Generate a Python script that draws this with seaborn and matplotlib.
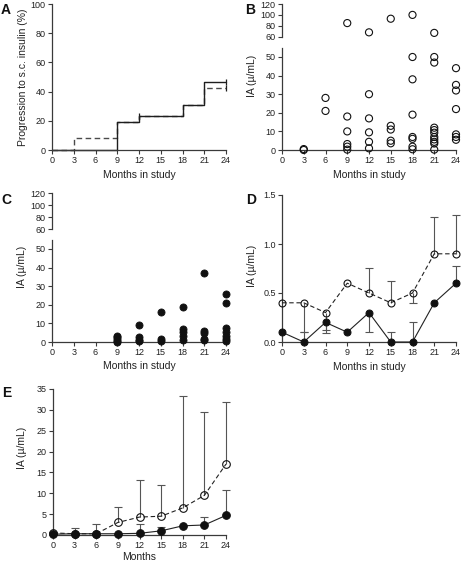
import matplotlib
matplotlib.use("Agg")
import matplotlib.pyplot as plt
import seaborn as sns
import pandas as pd
import numpy as np

# ---------------- data ----------------
months = [0, 3, 6, 9, 12, 15, 18, 21, 24]
xticks = [0, 3, 6, 9, 12, 15, 18, 21, 24]

# Panel A: Kaplan-Meier style progression (%)
a_solid_x = [0, 9, 12, 18, 21, 24]
a_solid_y = [0, 19.5, 23.3, 30.8, 46.4, 46.4]
a_dash_x = [0, 3, 9, 12, 18, 21, 24]
a_dash_y = [0, 8.0, 19.5, 23.3, 30.8, 42.7, 42.7]
a_cens_x = [12, 24, 24]
a_cens_y = [23.3, 46.4, 42.7]

# Panel B: individual IA values (open circles)
b_months = [3, 6, 9, 12, 15, 18, 21, 24]
b_values = [
    [0.0, 0.5],
    [28, 21],
    [85, 18, 10, 3.2, 1.8, 0.2],
    [68, 30, 17, 9.5, 4.4, 0.9],
    [93, 13, 11, 5, 3.6],
    [100, 50, 38, 19, 7, 6, 1.8, 0.4],
    [67, 50, 47, 12, 10.7, 9.3, 7, 5.7, 4.4, 3.5, 0.2],
    [44, 35, 32, 22, 8.4, 7, 5.5],
]

# Panel C: individual IA values (filled circles)
c_months = [9, 12, 15, 18, 21, 24]
c_values = [
    [3.4, 2.5, 1.5, 0.6, 0.0],
    [9.3, 2.5, 1.3, 0.3],
    [16, 1.6, 0.7],
    [19, 7.1, 5.4, 3.2, 1.1],
    [37, 5.8, 5.0, 1.8, 1.0],
    [26, 21, 7.4, 5.6, 3.4, 1.6, 0.4],
]

# Panel D: summary (open = dashed, filled = solid), with bar bounds
d_open = [0.4, 0.4, 0.3, 0.6, 0.5, 0.4, 0.5, 0.9, 0.9]
d_open_lo = [0.4, 0.1, 0.12, 0.6, 0.5, 0.4, 0.4, 0.9, 0.9]
d_open_hi = [0.4, 0.4, 0.3, 0.6, 0.76, 0.62, 0.5, 1.28, 1.3]
d_fill = [0.1, 0.0, 0.2, 0.1, 0.3, 0.0, 0.0, 0.4, 0.6]
d_fill_lo = [0.1, 0.0, 0.09, 0.1, 0.1, 0.0, 0.0, 0.4, 0.6]
d_fill_hi = [0.1, 0.1, 0.2, 0.1, 0.3, 0.1, 0.2, 0.4, 0.78]

# Panel E
e_open = [0.5, 0.3, 0.3, 3.0, 4.3, 4.5, 6.5, 9.5, 17.0]
e_open_hi = [0.8, 1.7, 2.6, 6.8, 13.1, 12.0, 33.3, 29.5, 32.0]
e_fill = [0.2, 0.3, 0.3, 0.3, 0.4, 1.0, 2.2, 2.4, 4.7]
e_fill_hi = [0.2, 0.3, 0.3, 0.3, 2.6, 2.0, 2.2, 4.3, 10.8]

# ---------------- style ----------------
sns.set_theme(style="ticks")
plt.rcParams["font.family"] = ["Liberation Sans", "DejaVu Sans"]
plt.rcParams["axes.linewidth"] = 0.9

W, H = 463, 565
fig = plt.figure(figsize=(W / 100, H / 100), dpi=100)

SPINE = "#3a3a3a"
TICKFS = 6.5
LABFS = 7.5


def add_ax(l, t, r, b):
    return fig.add_axes([l / W, 1 - b / H, (r - l) / W, (b - t) / H])


def style(ax, xaxis=True):
    sns.despine(ax=ax)
    for s in ["left", "bottom"]:
        ax.spines[s].set_color(SPINE)
        ax.spines[s].set_linewidth(0.9)
    ax.tick_params(axis="both", length=3, width=0.8, pad=1.5,
                   labelsize=TICKFS, colors="#222222", color=SPINE)
    if not xaxis:
        ax.spines["bottom"].set_visible(False)
        ax.tick_params(axis="x", bottom=False, labelbottom=False)
    ax.set_facecolor("none")


def xsetup(ax, label="Months in study", pix_below=20):
    ax.set_xlim(0, 24)
    ax.set_xticks(xticks)
    ax.set_xticklabels([str(v) for v in xticks])
    ax.set_xlabel(label, fontsize=LABFS, color="#222222")
    h = ax.get_position().height * H
    ax.xaxis.set_label_coords(0.5, -pix_below / h)


def ylab(ax, text, px_left, yfrac):
    ax.set_ylabel(text, fontsize=LABFS, color="#222222")
    w = ax.get_position().width * W
    ax.yaxis.set_label_coords(-px_left / w, yfrac)


def caps(ax, x, y, color):
    ax.plot(x, y, linestyle="none", marker="_", markersize=6,
            markeredgewidth=0.8, color=color, clip_on=False, zorder=2)


def bars(ax, x, val, lo, hi, color="#555555"):
    x = np.asarray(x, float)
    val = np.asarray(val, float)
    lo = np.asarray(lo, float)
    hi = np.asarray(hi, float)
    m = hi > val
    ax.vlines(x[m], val[m], hi[m], color=color, linewidth=0.8, zorder=2,
              clip_on=False)
    caps(ax, x[m], hi[m], color)
    m = lo < val
    ax.vlines(x[m], lo[m], val[m], color=color, linewidth=0.8, zorder=2,
              clip_on=False)
    caps(ax, x[m], lo[m], color)


# ---------------- Panel A ----------------
axA = add_ax(52, 4, 226, 150)
style(axA)
sns.lineplot(x=a_dash_x, y=a_dash_y, ax=axA, drawstyle="steps-post",
             color="#4a4a4a", linewidth=1.0, linestyle=(0, (4, 2.5)),
             clip_on=False)
sns.lineplot(x=a_solid_x, y=a_solid_y, ax=axA, drawstyle="steps-post",
             color="#1e1e1e", linewidth=1.0, clip_on=False)
axA.plot(a_cens_x, a_cens_y, linestyle="none", marker="|", markersize=5,
         markeredgewidth=0.9, color="#1e1e1e", clip_on=False)
axA.set_ylim(0, 100)
axA.set_yticks([0, 20, 40, 60, 80, 100])
xsetup(axA, pix_below=20)
ylab(axA, "Progression to s.c. insulin (%)", 24, 0.5)

# ---------------- Panel B ----------------
dfB = pd.DataFrame({"month": np.repeat(b_months, [len(v) for v in b_values]),
                    "IA": np.concatenate([np.asarray(v, float) for v in b_values])})
axB = add_ax(282, 47.7, 456, 150)
axBu = add_ax(282, 4, 456, 36.7)
for ax, sub in [(axB, dfB[dfB.IA <= 55]), (axBu, dfB[dfB.IA > 55])]:
    sns.scatterplot(data=sub, x="month", y="IA", ax=ax, marker="o", s=26,
                    facecolors="none", edgecolor="#111111", linewidth=0.8,
                    clip_on=False, zorder=3)
style(axB)
style(axBu, xaxis=False)
axB.set_ylim(0, 55)
axB.set_yticks([0, 10, 20, 30, 40, 50])
axBu.set_ylim(60, 120)
axBu.set_yticks([60, 80, 100, 120])
axBu.set_xlim(0, 24)
axBu.set_xlabel("")
axBu.set_ylabel("")
xsetup(axB, pix_below=20)
ylab(axB, "IA (µ/mL)", 25, 0.72)

# ---------------- Panel C ----------------
dfC = pd.DataFrame({"month": np.repeat(c_months, [len(v) for v in c_values]),
                    "IA": np.concatenate([np.asarray(v, float) for v in c_values])})
axC = add_ax(52, 239.7, 226, 342)
axCu = add_ax(52, 193.3, 226, 229.3)
sns.scatterplot(data=dfC, x="month", y="IA", ax=axC, marker="o", s=26,
                color="#111111", edgecolor="#111111", linewidth=0.6,
                clip_on=False, zorder=3)
style(axC)
style(axCu, xaxis=False)
axC.set_ylim(0, 55)
axC.set_yticks([0, 10, 20, 30, 40, 50])
axCu.set_ylim(60, 120)
axCu.set_yticks([60, 80, 100, 120])
axCu.set_xlim(0, 24)
xsetup(axC, pix_below=19)
ylab(axC, "IA (µ/mL)", 25, 0.73)

# ---------------- Panel D ----------------
axD = add_ax(282, 195, 456, 342)
style(axD)
bars(axD, months, d_open, d_open_lo, d_open_hi)
bars(axD, months, d_fill, d_fill_lo, d_fill_hi)
sns.lineplot(x=months, y=d_open, ax=axD, color="#222222", linewidth=0.8,
             linestyle=(0, (4, 2.5)), marker="o", markersize=5,
             markerfacecolor="none", markeredgecolor="#111111",
             markeredgewidth=0.8, clip_on=False, zorder=3)
sns.lineplot(x=months, y=d_fill, ax=axD, color="#222222", linewidth=0.8,
             marker="o", markersize=5, markerfacecolor="#111111",
             markeredgecolor="#111111", clip_on=False, zorder=4)
axD.set_ylim(0, 1.5)
axD.set_yticks([0, 0.5, 1.0, 1.5])
axD.set_yticklabels(["0.0", "0.5", "1.0", "1.5"])
xsetup(axD, pix_below=20)
ylab(axD, "IA (µ/mL)", 25, 0.52)

# ---------------- Panel E ----------------
axE = add_ax(53, 389, 226, 535)
style(axE)
bars(axE, months, e_open, e_open, e_open_hi)
bars(axE, months, e_fill, e_fill, e_fill_hi)
sns.lineplot(x=months, y=e_open, ax=axE, color="#222222", linewidth=0.8,
             linestyle=(0, (4, 2.5)), marker="o", markersize=5.5,
             markerfacecolor="none", markeredgecolor="#111111",
             markeredgewidth=0.8, clip_on=False, zorder=3)
sns.lineplot(x=months, y=e_fill, ax=axE, color="#222222", linewidth=0.8,
             marker="o", markersize=5.5, markerfacecolor="#111111",
             markeredgecolor="#111111", clip_on=False, zorder=4)
axE.set_ylim(0, 35)
axE.set_yticks([0, 5, 10, 15, 20, 25, 30, 35])
xsetup(axE, label="Months", pix_below=17)
ylab(axE, "IA (µ/mL)", 26, 0.6)

# ---------------- panel letters ----------------
for letter, px, py in [("A", 1, 3), ("B", 245, 3), ("C", 1, 193),
                       ("D", 246, 193), ("E", 2, 386)]:
    fig.text(px / W, 1 - py / H, letter, fontsize=10, fontweight="bold",
             ha="left", va="top", color="#111111")

fig.savefig("out.png", dpi=100)
